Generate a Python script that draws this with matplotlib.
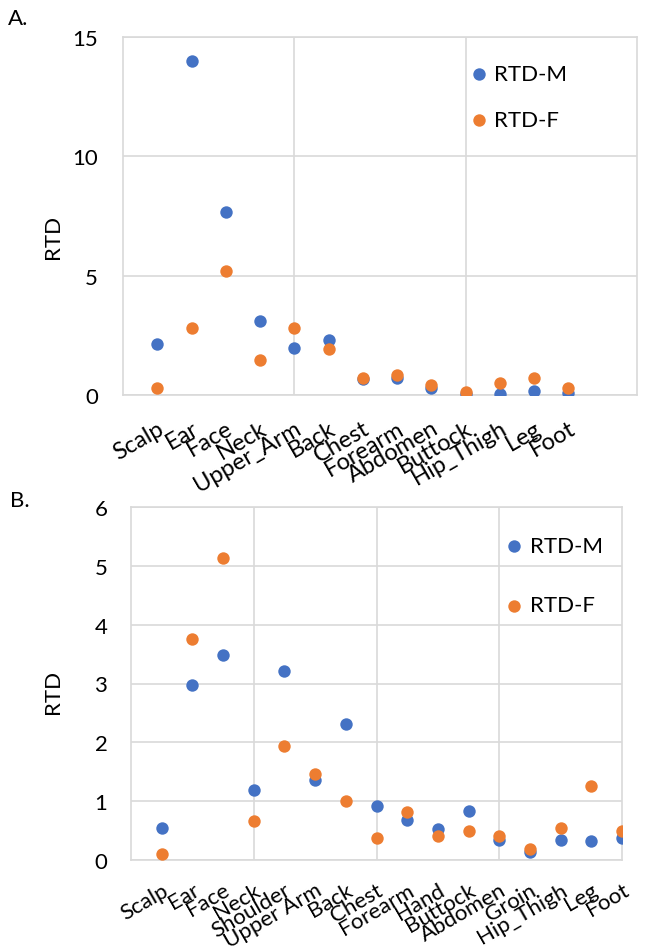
import numpy as np
import matplotlib
matplotlib.use('Agg')
import matplotlib.pyplot as plt

plt.rcParams['font.family'] = ['Lato', 'DejaVu Sans']

blue = '#4472C4'
orange = '#ED7D31'
grey = '#D9D9D9'

# panel A
sites_a = ['Scalp', 'Ear', 'Face', 'Neck', 'Upper_Arm', 'Back', 'Chest',
           'Forearm', 'Abdomen', 'Buttock', 'Hip_Thigh', 'Leg', 'Foot']
rtd_m_a = [2.13, 14.01, 7.65, 3.09, 1.99, 2.31, 0.69, 0.73, 0.31, 0.03, 0.06, 0.17, 0.07]
rtd_f_a = [0.31, 2.80, 5.20, 1.47, 2.80, 1.94, 0.73, 0.85, 0.42, 0.13, 0.49, 0.71, 0.31]

# panel B
sites_b = ['Scalp', 'Ear', 'Face', 'Neck', 'Shoulder', 'Upper Arm', 'Back',
           'Chest', 'Forearm', 'Hand', 'Buttock', 'Abdomen', 'Groin',
           'Hip_Thigh', 'Leg', 'Foot']
rtd_m_b = [0.55, 2.97, 3.48, 1.19, 3.21, 1.36, 2.31, 0.92, 0.68, 0.53, 0.84,
           0.34, 0.14, 0.34, 0.33, 0.37]
rtd_f_b = [0.10, 3.75, 5.14, 0.66, 1.94, 1.47, 1.01, 0.38, 0.81, 0.40, 0.49,
           0.40, 0.19, 0.55, 1.25, 0.50]


def panel(ax, sites, m, f, xmax, xstep, ymax, ystep, leg_xy, leg_space,
          lab_pad, lab_size, ytick_pad, ylab_xy):
    x = np.arange(1, len(sites) + 1)
    ax.scatter(x, m, s=80, color=blue, label='RTD-M', zorder=3, linewidths=0)
    ax.scatter(x, f, s=80, color=orange, label='RTD-F', zorder=4, linewidths=0)
    ax.set_xlim(0, xmax)
    ax.set_ylim(0, ymax)
    # vertical gridlines every xstep, category labels at 1..n
    for gx in np.arange(xstep, xmax, xstep):
        ax.axvline(gx, color=grey, linewidth=1.2, zorder=0)
    ax.set_xticks(x)
    ax.set_xticklabels(sites, rotation=30, ha='right', rotation_mode='anchor',
                       fontsize=lab_size)
    ax.set_yticks(np.arange(0, ymax + 1, ystep))
    ax.tick_params(axis='both', length=0, labelsize=16)
    ax.tick_params(axis='x', labelsize=lab_size, pad=lab_pad)
    ax.tick_params(axis='y', pad=ytick_pad)
    ax.grid(True, axis='y', color=grey, linewidth=1.2, zorder=0)
    for s in ax.spines.values():
        s.set_color(grey)
        s.set_linewidth(1.2)
    ax.set_ylabel('RTD', fontsize=16)
    ax.yaxis.set_label_coords(*ylab_xy)
    ax.legend(loc='upper left', bbox_to_anchor=leg_xy, frameon=False,
              fontsize=16, handlelength=0.6, handletextpad=0.4,
              labelspacing=leg_space, borderpad=0, borderaxespad=0,
              scatterpoints=1)


fig = plt.figure(figsize=(6.46, 9.53), dpi=100)

ax1 = fig.add_axes([123 / 646, 1 - 396 / 953, 514 / 646, 358 / 953])
panel(ax1, sites_a, rtd_m_a, rtd_f_a, 15, 5, 15, 5, (0.679, 0.924), 1.16,
      16, 17, 18, (-0.117, 0.444))

ax2 = fig.add_axes([131 / 646, 1 - 861 / 953, 491 / 646, 353 / 953])
panel(ax2, sites_b, rtd_m_b, rtd_f_b, 16, 4, 6, 1, (0.767, 0.919), 1.79,
      14, 16, 17, (-0.138, 0.479))

fig.text(8 / 646, 1 - 19 / 953, 'A.', fontsize=16, va='center')
fig.text(10 / 646, 1 - 501 / 953, 'B.', fontsize=16, va='center')

fig.savefig('out.png', dpi=100)
